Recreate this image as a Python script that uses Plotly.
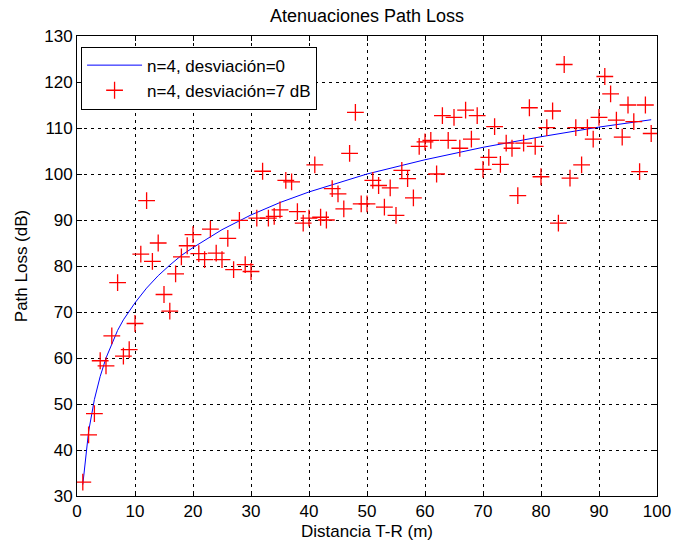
import plotly.graph_objects as go

# Distance (m) for each measured sample
distancia = list(range(1, 100))

# Path loss samples with 7 dB shadowing (dB)
pl_medido = [
    33.0, 43.3, 47.9, 59.4, 58.3, 64.8, 76.4, 60.4, 61.8, 67.5,
    82.6, 94.2, 81.0, 85.0, 73.8, 70.2, 78.3, 82.0, 84.4, 86.8,
    82.7, 81.4, 88.0, 82.8, 81.4, 86.0, 79.2, 89.9, 80.3, 78.8,
    90.4, 100.6, 90.4, 90.8, 92.2, 98.6, 98.3, 91.8, 89.3, 90.4,
    102.0, 90.6, 90.0, 96.8, 95.7, 92.4, 104.5, 113.4, 93.5, 93.5,
    98.6, 97.5, 92.8, 97.0, 91.0, 100.8, 99.0, 94.8, 106.0, 107.0,
    107.3, 100.0, 112.7, 107.3, 112.3, 105.6, 113.9, 107.6, 112.7, 101.0,
    103.6, 110.3, 102.1, 106.7, 105.6, 95.3, 106.7, 114.4, 106.0, 99.4,
    110.1, 113.7, 89.3, 123.8, 99.1, 110.1, 102.0, 110.1, 107.6, 112.3,
    121.2, 117.4, 111.7, 108.0, 115.0, 111.4, 100.5, 115.0, 108.8,
]

# Mean path loss curve (no shadowing)
distancia_media = [1, 2, 3, 4, 5, 6, 7, 8, 9, 10, 12, 14, 16, 18, 20,
                   25, 30, 35, 40, 45, 50, 60, 70, 80, 90, 99]
pl_medio = [32.5, 44.0, 51.0, 56.0, 60.0, 63.2, 66.0, 68.3, 70.3, 72.0,
            75.2, 77.9, 80.2, 82.3, 84.0, 87.9, 91.1, 93.8, 96.1, 98.1,
            100.0, 103.1, 105.8, 108.1, 110.2, 111.8]

x_ticks = list(range(0, 101, 10))
y_ticks = list(range(30, 131, 10))

FONT = "Liberation Sans, Arial, sans-serif"
FS = 17

fig = go.Figure()
fig.add_trace(go.Scatter(
    x=distancia_media, y=pl_medio, mode="lines",
    name="n=4, desviación=0",
    line=dict(color="#0000ff", width=1),
))
fig.add_trace(go.Scatter(
    x=distancia, y=pl_medido, mode="markers",
    name="n=4, desviación=7 dB",
    marker=dict(symbol="cross-thin", size=12, color="#ff0000",
                line=dict(color="#ff0000", width=1.3)),
))

axis_common = dict(
    showline=True, linecolor="black", linewidth=1, mirror="allticks",
    ticks="inside", ticklen=5, tickcolor="black",
    showgrid=True, gridcolor="black", gridwidth=1, griddash="3px,4px",
    zeroline=False, automargin=False,
    tickfont=dict(family=FONT, size=FS, color="black"),
)

fig.update_xaxes(range=[0, 100], tickvals=x_ticks,
                 title=dict(text="Distancia T-R (m)", standoff=4,
                            font=dict(family=FONT, size=FS, color="black")),
                 **axis_common)
fig.update_yaxes(range=[30, 130], tickvals=y_ticks,
                 title=dict(text="Path Loss (dB)", standoff=12,
                            font=dict(family=FONT, size=FS, color="black")),
                 **axis_common)

fig.update_layout(
    width=674, height=546,
    margin=dict(l=77, r=17, t=36, b=50),
    paper_bgcolor="white", plot_bgcolor="white",
    title=dict(text="Atenuaciones Path Loss", x=0.5, xref="paper",
               y=0.971, yref="container", yanchor="middle",
               font=dict(family=FONT, size=FS + 1, color="black")),
    legend=dict(x=0.007, y=0.977, xanchor="left", yanchor="top",
                bgcolor="white", bordercolor="black", borderwidth=1,
                font=dict(family=FONT, size=FS, color="black"),
                itemwidth=55),
    showlegend=True,
)

fig.write_html("out.html")
